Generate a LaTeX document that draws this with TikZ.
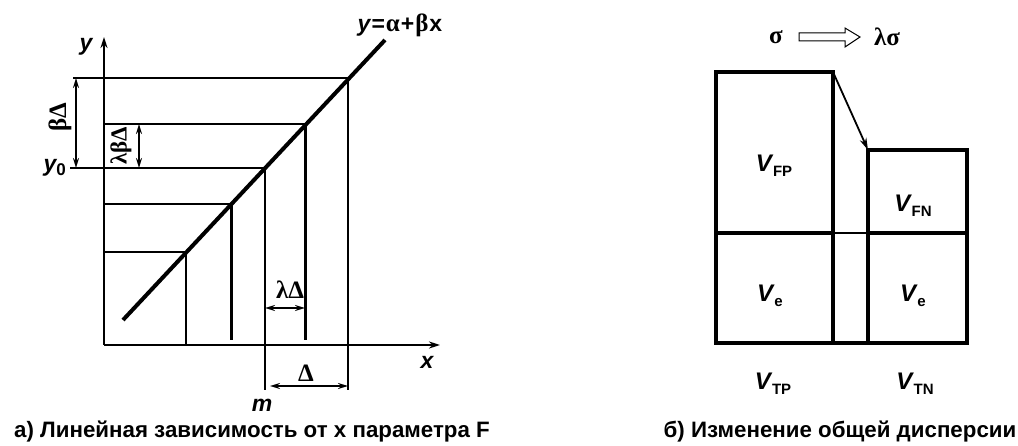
\documentclass[tikz,border=0pt]{standalone}
\usepackage{fontspec}
\setmainfont{Liberation Sans}
\newfontfamily\gr{Liberation Serif}
\usetikzlibrary{arrows.meta,calc}
\tikzset{
  thin line/.style={line width=1.7pt},
  thick line/.style={line width=3pt},
  mid line/.style={line width=2.2pt},
  boxline/.style={line width=3.4pt},
  dimarrow/.style={line width=1.6pt,{Stealth[length=10pt,width=6pt]}-{Stealth[length=10pt,width=6pt]}},
  axisarrow/.style={line width=1.8pt,-{Stealth[length=11pt,width=7pt]}},
  lbl/.style={font=\fontsize{23}{25}\selectfont\bfseries\itshape, inner sep=0pt},
  glbl/.style={font=\fontsize{25}{27}\selectfont\gr\bfseries, inner sep=0pt},
  captext/.style={font=\fontsize{22.3}{25}\selectfont\bfseries, inner sep=0pt},
  vlbl/.style={font=\fontsize{24}{26}\selectfont\bfseries, inner sep=0pt},
}
\newcommand{\Vs}[1]{\textit{V}\kern-0.5pt\raisebox{-0.4ex}{\fontsize{15}{16}\selectfont\bfseries #1}}
\begin{document}
\begin{tikzpicture}[x=1pt,y=-1pt]
\useasboundingbox (0,0) rectangle (1018,446);
% ---------------- left plot ----------------
\coordinate (O) at (104,345);
\coordinate (ytip) at (104,37);
\coordinate (xtip) at (440,345);
\draw[axisarrow] (O) -- (ytip);
\draw[axisarrow] (O) -- (xtip);
% regression line
\coordinate (L0) at (123,320);
\coordinate (L1) at (385,40);
\coordinate (P1) at (186,252);
\coordinate (P2) at (231,204);
\coordinate (P3) at (265,168);
\coordinate (P4) at (305,124);
\coordinate (P5) at (348,78);
\draw[line width=4pt] (L0) -- (L1);
% horizontals
\draw[thin line] (P1) -- (P1 -| O);
\draw[thin line] (P2) -- (P2 -| O);
\draw[mid line] (P3) -- (70,168);
\draw[thin line] (P4) -- (P4 -| O);
\draw[mid line] (P5) -- (73,78);
% verticals
\draw[thin line] (P1) -- (P1 |- O);
\draw[thick line] (P2) -- (231,340);
\draw[thin line] (P3) -- (265,390);
\draw[thick line] (P4) -- (305,340);
\draw[thin line] (P5) -- (348,390);
% dimension arrows
\draw[dimarrow] (76,78) -- (76,168);
\draw[dimarrow] (139,124) -- (139,168);
\draw[dimarrow] (265,308) -- (305,308);
\draw[dimarrow] (270,386) -- (348,386);
% labels
\node[lbl] (ylab) at (86,47) {y};
\node[lbl] (xlab) at (427,362) {x};
\node[lbl] (mlab) at (262,405) {m};
\node[lbl,anchor=east] (y0lab) at (66,168) {y\raisebox{-0.35ex}{\upshape\fontsize{17}{18}\selectfont 0}};
\node[glbl,rotate=90] (bd) at (60,117) {βΔ};
\node[glbl,rotate=90,font=\fontsize{23}{25}\selectfont\gr\bfseries] (lbd) at (121,146) {λβΔ};
\node[glbl] (ld) at (290,290) {λΔ};
\node[glbl] (dd) at (306,373) {Δ};
\node[lbl] (eq) at (400,25) {y\kern1pt{\upshape=}\kern1pt{\gr\upshape\fontsize{25}{27}\selectfont α}\kern1pt{\upshape+}\kern1pt{\gr\upshape\fontsize{25}{27}\selectfont β}\kern1pt{\upshape x}};
\node[captext] (capa) at (252,432) {а) Линейная зависимость от x параметра F};
% ---------------- right diagram ----------------
\node[glbl] (sig) at (776,37) {σ};
\node[glbl] (lsig) at (887,37) {λσ};
\draw[line width=1pt,fill=white] (799,33) -- (845,33) -- (845,28) -- (860,37) -- (845,47) -- (845,41) -- (799,41) -- cycle;
\coordinate (B1) at (716,72);
\coordinate (B2) at (833,343);
\coordinate (C1) at (868,150);
\coordinate (C2) at (967,343);
\draw[line width=1.2pt] (833,233) -- (868,233);
\draw[boxline] (B1) rectangle (B2);
\draw[boxline] (C1) rectangle (C2);
\draw[boxline] (716,233) -- (833,233);
\draw[boxline] (868,233) -- (967,233);
\draw[boxline] (833,343) -- (868,343);
\draw[line width=1.8pt,-{Stealth[length=12pt,width=7pt]}] (B1 -| B2) -- (C1);
\node[vlbl] (vfp) at (774,166) {\Vs{FP}};
\node[vlbl] (vfn) at (913,206) {\Vs{FN}};
\node[vlbl] (ve1) at (770,296) {\Vs{e}};
\node[vlbl] (ve2) at (913,296) {\Vs{e}};
\node[vlbl] (vtp) at (773,384) {\Vs{TP}};
\node[vlbl] (vtn) at (915,384) {\Vs{TN}};
\node[captext] (capb) at (840,432) {б) Изменение общей дисперсии};
\end{tikzpicture}
\end{document}
